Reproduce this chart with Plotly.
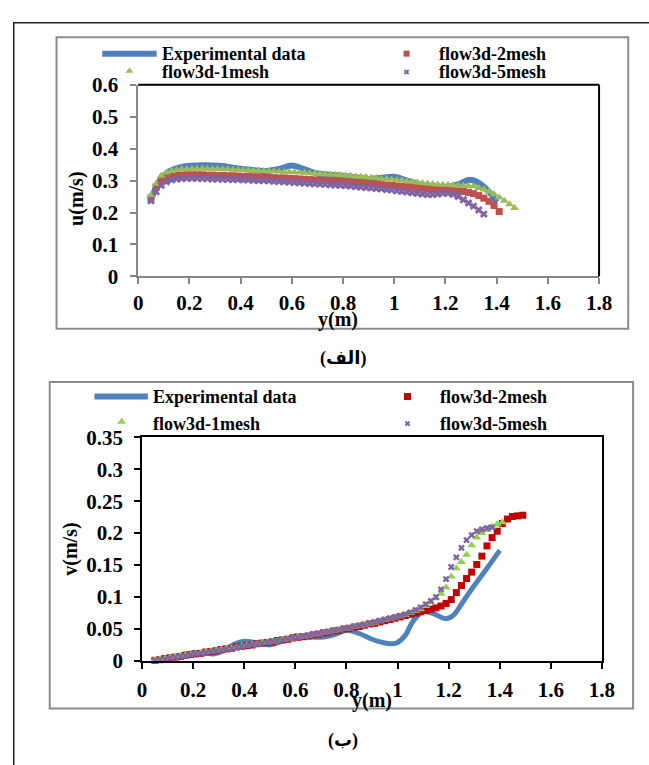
import plotly.graph_objects as go

W, H = 649, 765

# ---------------- data ----------------
# lateral position grid of the simulation samples (m)
Y_GRID = [0.05, 0.07, 0.09, 0.11, 0.13, 0.15, 0.17, 0.19, 0.21, 0.23,
          0.25, 0.27, 0.29, 0.31, 0.33, 0.35, 0.37, 0.39, 0.41, 0.43,
          0.45, 0.47, 0.49, 0.51, 0.53, 0.55, 0.57, 0.59, 0.61, 0.63,
          0.65, 0.67, 0.69, 0.71, 0.73, 0.75, 0.77, 0.79, 0.81, 0.83,
          0.85, 0.87, 0.89, 0.91, 0.93, 0.95, 0.97, 0.99, 1.01, 1.03,
          1.05, 1.07, 1.09, 1.11, 1.13, 1.15, 1.17, 1.19, 1.21, 1.23,
          1.25, 1.27, 1.29, 1.31, 1.33, 1.35, 1.37, 1.39, 1.41, 1.43,
          1.45, 1.47, 1.49]

# chart (الف): u (m/s)
U_EXP_Y = [0.055, 0.08, 0.12, 0.18, 0.25, 0.32, 0.40, 0.50, 0.55, 0.60,
           0.65, 0.70, 0.80, 0.90, 0.97, 1.00, 1.05, 1.10, 1.20, 1.25,
           1.29, 1.33, 1.37, 1.40]
U_EXP = [0.250, 0.295, 0.328, 0.344, 0.348, 0.346, 0.337, 0.330, 0.336, 0.347,
         0.335, 0.322, 0.315, 0.305, 0.310, 0.312, 0.300, 0.288, 0.280, 0.288,
         0.302, 0.293, 0.265, 0.232]
U_2MESH = [0.245, 0.280, 0.298, 0.308, 0.313, 0.316, 0.317, 0.318, 0.318, 0.318,
           0.318, 0.317, 0.317, 0.316, 0.316, 0.315, 0.315, 0.314, 0.313, 0.313,
           0.312, 0.311, 0.311, 0.310, 0.309, 0.308, 0.308, 0.307, 0.306, 0.305,
           0.304, 0.303, 0.302, 0.301, 0.300, 0.299, 0.298, 0.297, 0.296, 0.295,
           0.294, 0.292, 0.291, 0.290, 0.289, 0.287, 0.286, 0.285, 0.283, 0.282,
           0.280, 0.279, 0.277, 0.276, 0.274, 0.273, 0.272, 0.271, 0.270, 0.269,
           0.268, 0.266, 0.263, 0.259, 0.253, 0.245, 0.235, 0.222, 0.203]
U_1MESH = [0.255, 0.290, 0.315, 0.325, 0.330, 0.333, 0.335, 0.336, 0.337, 0.337,
           0.337, 0.337, 0.336, 0.336, 0.335, 0.335, 0.334, 0.333, 0.333, 0.332,
           0.331, 0.331, 0.330, 0.329, 0.329, 0.328, 0.327, 0.327, 0.326, 0.325,
           0.324, 0.323, 0.322, 0.321, 0.320, 0.319, 0.318, 0.317, 0.316, 0.315,
           0.313, 0.312, 0.311, 0.309, 0.308, 0.306, 0.305, 0.303, 0.302, 0.300,
           0.298, 0.296, 0.294, 0.292, 0.291, 0.289, 0.288, 0.287, 0.286, 0.285,
           0.284, 0.284, 0.283, 0.282, 0.277, 0.272, 0.265, 0.257, 0.247, 0.237,
           0.226, 0.214]
U_5MESH = [0.237, 0.265, 0.285, 0.296, 0.302, 0.305, 0.306, 0.307, 0.307, 0.307,
           0.306, 0.306, 0.305, 0.305, 0.304, 0.304, 0.303, 0.303, 0.302, 0.302,
           0.301, 0.300, 0.300, 0.299, 0.298, 0.297, 0.296, 0.295, 0.294, 0.293,
           0.292, 0.291, 0.290, 0.289, 0.288, 0.287, 0.286, 0.285, 0.284, 0.283,
           0.281, 0.280, 0.278, 0.277, 0.275, 0.274, 0.272, 0.270, 0.268, 0.266,
           0.264, 0.262, 0.260, 0.258, 0.256, 0.256, 0.258, 0.260, 0.260, 0.257,
           0.250, 0.240, 0.230, 0.220, 0.208, 0.195]

# chart (ب): v (m/s)
V_EXP_Y = [0.05, 0.10, 0.15, 0.20, 0.25, 0.28, 0.32, 0.36, 0.40, 0.44,
           0.50, 0.55, 0.60, 0.65, 0.70, 0.75, 0.80, 0.85, 0.90, 0.95,
           0.98, 1.00, 1.03, 1.06, 1.10, 1.14, 1.19, 1.22, 1.26, 1.30,
           1.35, 1.40]
V_EXP = [0.000, 0.004, 0.009, 0.013, 0.012, 0.011, 0.016, 0.026, 0.031, 0.029,
         0.025, 0.031, 0.039, 0.038, 0.037, 0.041, 0.048, 0.043, 0.034, 0.028,
         0.027, 0.029, 0.040, 0.062, 0.077, 0.074, 0.066, 0.072, 0.095, 0.118,
         0.145, 0.173]
V_2MESH = [0.001, 0.002, 0.004, 0.005, 0.006, 0.007, 0.009, 0.010, 0.011, 0.012,
           0.014, 0.015, 0.016, 0.018, 0.019, 0.020, 0.022, 0.023, 0.024, 0.025,
           0.027, 0.028, 0.029, 0.030, 0.032, 0.033, 0.034, 0.036, 0.037, 0.038,
           0.039, 0.041, 0.042, 0.044, 0.045, 0.047, 0.048, 0.050, 0.051, 0.053,
           0.054, 0.056, 0.058, 0.059, 0.061, 0.063, 0.065, 0.067, 0.069, 0.071,
           0.073, 0.075, 0.077, 0.079, 0.081, 0.083, 0.086, 0.090, 0.096, 0.107,
           0.118, 0.129, 0.139, 0.151, 0.164, 0.180, 0.193, 0.203, 0.215, 0.222,
           0.226, 0.227, 0.228]
V_1MESH = [0.002, 0.003, 0.004, 0.005, 0.007, 0.008, 0.009, 0.010, 0.011, 0.013,
           0.014, 0.015, 0.016, 0.018, 0.019, 0.020, 0.021, 0.023, 0.024, 0.025,
           0.026, 0.028, 0.029, 0.030, 0.031, 0.033, 0.034, 0.035, 0.037, 0.038,
           0.039, 0.041, 0.042, 0.044, 0.045, 0.047, 0.048, 0.050, 0.051, 0.053,
           0.055, 0.056, 0.058, 0.060, 0.062, 0.064, 0.066, 0.068, 0.070, 0.072,
           0.075, 0.078, 0.081, 0.086, 0.092, 0.098, 0.105, 0.115, 0.132, 0.145,
           0.155, 0.166, 0.181, 0.193, 0.200, 0.205, 0.210, 0.214, 0.217]
V_5MESH = [0.001, 0.002, 0.003, 0.005, 0.006, 0.007, 0.008, 0.010, 0.011, 0.012,
           0.013, 0.015, 0.016, 0.017, 0.019, 0.020, 0.021, 0.023, 0.024, 0.025,
           0.027, 0.028, 0.029, 0.031, 0.032, 0.033, 0.035, 0.036, 0.037, 0.039,
           0.040, 0.042, 0.043, 0.045, 0.046, 0.048, 0.049, 0.051, 0.052, 0.054,
           0.056, 0.057, 0.059, 0.061, 0.063, 0.065, 0.067, 0.069, 0.071, 0.073,
           0.076, 0.080, 0.084, 0.089, 0.094, 0.100, 0.112, 0.128, 0.147, 0.162,
           0.177, 0.189, 0.197, 0.203, 0.206, 0.208, 0.209]

X_TICKS = [0, 0.2, 0.4, 0.6, 0.8, 1, 1.2, 1.4, 1.6, 1.8]
U_TICKS = [0, 0.1, 0.2, 0.3, 0.4, 0.5, 0.6]
V_TICKS = [0, 0.05, 0.1, 0.15, 0.2, 0.25, 0.3, 0.35]

NAMES = ["Experimental data", "flow3d-2mesh", "flow3d-1mesh", "flow3d-5mesh"]

# ---------------- styles ----------------
FONT = "Liberation Serif"
ARFONT = "Liberation Serif, DejaVu Sans, Noto Sans, serif"
BLUE = "#4F81BD"
C1 = {"red": "#C0504D", "green": "#9BBB59", "purple": "#8064A2"}
C2 = {"red": "#C00000", "green": "#92D050", "purple": "#8064A2"}


def px(x):
    return x / W


def py(y):
    return 1 - y / H


fig = go.Figure()

# ---- chart 1 traces ----
fig.add_trace(go.Scatter(x=U_EXP_Y, y=U_EXP, mode="lines", name=NAMES[0],
                         line=dict(color=BLUE, width=6, shape="spline", smoothing=0.8),
                         xaxis="x", yaxis="y", showlegend=False, cliponaxis=False))
fig.add_trace(go.Scatter(x=Y_GRID[:len(U_2MESH)], y=U_2MESH, mode="markers", name=NAMES[1],
                         marker=dict(symbol="square", size=7, color=C1["red"]),
                         xaxis="x", yaxis="y", showlegend=False, cliponaxis=False))
fig.add_trace(go.Scatter(x=Y_GRID[:len(U_1MESH)], y=U_1MESH, mode="markers", name=NAMES[2],
                         marker=dict(symbol="triangle-up", size=8, color=C1["green"]),
                         xaxis="x", yaxis="y", showlegend=False, cliponaxis=False))
fig.add_trace(go.Scatter(x=Y_GRID[:len(U_5MESH)], y=U_5MESH, mode="markers", name=NAMES[3],
                         marker=dict(symbol="x", size=7, color=C1["purple"]),
                         xaxis="x", yaxis="y", showlegend=False, cliponaxis=False))

# ---- chart 2 traces ----
fig.add_trace(go.Scatter(x=V_EXP_Y, y=V_EXP, mode="lines", name=NAMES[0],
                         line=dict(color=BLUE, width=5, shape="spline", smoothing=0.8),
                         xaxis="x2", yaxis="y2", showlegend=False, cliponaxis=False))
fig.add_trace(go.Scatter(x=Y_GRID[:len(V_2MESH)], y=V_2MESH, mode="markers", name=NAMES[1],
                         marker=dict(symbol="square", size=7, color=C2["red"]),
                         xaxis="x2", yaxis="y2", showlegend=False, cliponaxis=False))
fig.add_trace(go.Scatter(x=Y_GRID[:len(V_1MESH)], y=V_1MESH, mode="markers", name=NAMES[2],
                         marker=dict(symbol="triangle-up", size=8, color=C2["green"]),
                         xaxis="x2", yaxis="y2", showlegend=False, cliponaxis=False))
fig.add_trace(go.Scatter(x=Y_GRID[:len(V_5MESH)], y=V_5MESH, mode="markers", name=NAMES[3],
                         marker=dict(symbol="x", size=6, color=C2["purple"]),
                         xaxis="x2", yaxis="y2", showlegend=False, cliponaxis=False))

# ---- hand-made legends on a pixel overlay axis ----
LEG = [
    dict(line=(100, 156, 43), tx=159, rows=(43, 62), mx=413, mtx=444, tri=(128, 61),
         cols=C1, sq=6, trs=7, xs=5),
    dict(line=(92, 147, 397), tx=150, rows=(397, 425), mx=414, mtx=445, tri=(120, 423),
         cols=C2, sq=7, trs=8, xs=5),
]
annotations = []
for L in LEG:
    x0, x1, yl = L["line"]
    fig.add_trace(go.Scatter(x=[x0, x1], y=[yl, yl], mode="lines",
                             line=dict(color=BLUE, width=6), xaxis="x3", yaxis="y3",
                             showlegend=False, hoverinfo="skip"))
    fig.add_trace(go.Scatter(x=[L["mx"]], y=[L["rows"][0]], mode="markers",
                             marker=dict(symbol="square", size=L["sq"], color=L["cols"]["red"]),
                             xaxis="x3", yaxis="y3", showlegend=False, hoverinfo="skip"))
    fig.add_trace(go.Scatter(x=[L["tri"][0]], y=[L["tri"][1]], mode="markers",
                             marker=dict(symbol="triangle-up", size=L["trs"], color=L["cols"]["green"]),
                             xaxis="x3", yaxis="y3", showlegend=False, hoverinfo="skip"))
    fig.add_trace(go.Scatter(x=[L["mx"]], y=[L["rows"][1]], mode="markers",
                             marker=dict(symbol="x", size=L["xs"], color=L["cols"]["purple"]),
                             xaxis="x3", yaxis="y3", showlegend=False, hoverinfo="skip"))
    for txt, xx, yy in [(NAMES[0], L["tx"], L["rows"][0]), (NAMES[2], L["tx"], L["rows"][1]),
                        (NAMES[1], L["mtx"], L["rows"][0]), (NAMES[3], L["mtx"], L["rows"][1])]:
        annotations.append(dict(text=txt, x=px(xx), y=py(yy), xref="paper", yref="paper",
                                xanchor="left", yanchor="middle", showarrow=False,
                                font=dict(family=FONT, size=18, color="black", weight="bold")))

# axis titles and captions
for txt, xx, yy, ang in [("u(m/s)", 74, 193, -90), ("y(m)", 342, 317, 0),
                         ("v(m/s)", 67, 555, -90), ("y(m)", 377, 711, 0)]:
    annotations.append(dict(text=txt, x=px(xx), y=py(yy), xref="paper", yref="paper",
                            xanchor="center", yanchor="middle", showarrow=False, textangle=ang,
                            font=dict(family=FONT, size=20, color="black", weight="bold")))
for txt, xx, yy in [("(الف)", 348, 358), ("(ب)", 348, 752)]:
    annotations.append(dict(text=txt, x=px(xx), y=py(yy), xref="paper", yref="paper",
                            xanchor="center", yanchor="middle", showarrow=False,
                            font=dict(family=ARFONT, size=18, color="black", weight="bold")))

# frames
shapes = [
    dict(type="rect", xref="paper", yref="paper", x0=px(9), x1=px(700), y0=py(11), y1=py(820),
         line=dict(color="#222222", width=1.5), layer="below"),
    dict(type="rect", xref="paper", yref="paper", x0=px(53), x1=px(641), y0=py(26), y1=py(327),
         line=dict(color="#8c8c8c", width=2), layer="below"),
    dict(type="rect", xref="paper", yref="paper", x0=px(46), x1=px(646), y0=py(382), y1=py(719),
         line=dict(color="#8c8c8c", width=2), layer="below"),
    # black top & right border of plot area 1
    dict(type="line", xref="x domain", yref="y domain", x0=0, x1=1, y0=1, y1=1,
         line=dict(color="black", width=2)),
    dict(type="line", xref="x domain", yref="y domain", x0=1, x1=1, y0=0, y1=1,
         line=dict(color="black", width=2)),
]

tickfont = dict(family=FONT, size=21, color="black", weight="bold")
common = dict(showgrid=False, zeroline=False, showline=True, ticks="outside",
              tickfont=tickfont, fixedrange=True)

fig.update_layout(
    width=W, height=H, margin=dict(l=0, r=0, t=0, b=0),
    paper_bgcolor="white", plot_bgcolor="rgba(0,0,0,0)", showlegend=False,
    xaxis=dict(domain=[px(137), px(611)], range=[0, 1.8], tickvals=X_TICKS,
               linecolor="#868686", linewidth=1.5, tickcolor="#868686", tickwidth=1.5, ticklen=6,
               ticklabelstandoff=1, anchor="y", **common),
    yaxis=dict(domain=[py(273), py(75)], range=[0, 0.6], tickvals=U_TICKS,
               linecolor="#868686", linewidth=1.5, tickcolor="#868686", tickwidth=1.5, ticklen=6,
               ticklabelstandoff=8, anchor="x", **common),
    xaxis2=dict(domain=[px(141), px(614)], range=[0, 1.8], tickvals=X_TICKS,
                linecolor="black", linewidth=2, tickcolor="black", tickwidth=2, ticklen=6,
                ticklabelstandoff=3, mirror=True, anchor="y2", **common),
    yaxis2=dict(domain=[py(670), py(439)], range=[0, 0.35], tickvals=V_TICKS,
                linecolor="black", linewidth=2, tickcolor="black", tickwidth=2, ticklen=6,
                ticklabelstandoff=7, mirror=True, anchor="x2", **common),
    xaxis3=dict(domain=[0, 1], range=[0, W], visible=False, fixedrange=True, anchor="y3"),
    yaxis3=dict(domain=[0, 1], range=[H, 0], visible=False, fixedrange=True, anchor="x3"),
    annotations=annotations, shapes=shapes,
)

fig.write_html("out.html")
